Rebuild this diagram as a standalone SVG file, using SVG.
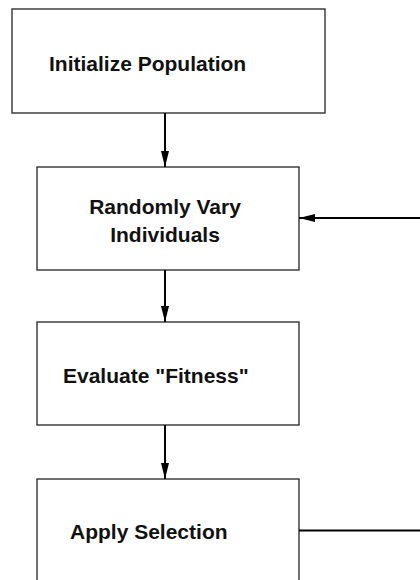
<svg xmlns="http://www.w3.org/2000/svg" width="420" height="580" viewBox="0 0 420 580">
<style>
.box{fill:#fff;stroke:#333;stroke-width:1.4}
.lbl{font-family:"Liberation Sans",Arial,sans-serif;font-weight:bold;font-size:21px;fill:#111}
.edge{stroke:#000;stroke-width:2;fill:none}
</style>
<defs>
<marker id="ah" viewBox="0 0 16 8" refX="16" refY="4" markerWidth="16" markerHeight="8" markerUnits="userSpaceOnUse" orient="auto">
<path d="M0,0 L16,4 L0,8 Z" fill="#000"/>
</marker>
</defs>
<rect width="420" height="580" fill="#fff"/>
<g id="n1"><rect class="box" x="12" y="9" width="313" height="104"/><text class="lbl" x="49" y="71">Initialize Population</text></g>
<g id="n2"><rect class="box" x="37" y="167" width="262" height="103"/><text class="lbl" x="165" y="214" text-anchor="middle">Randomly Vary</text><text class="lbl" x="165" y="242" text-anchor="middle">Individuals</text></g>
<g id="n3"><rect class="box" x="37" y="322" width="262" height="103"/><text class="lbl" x="63" y="383">Evaluate "Fitness"</text></g>
<g id="n4"><rect class="box" x="37" y="479" width="262" height="110"/><text class="lbl" x="70" y="539">Apply Selection</text></g>
<g id="connectors">
<line class="edge" x1="165" y1="113" x2="165" y2="167" marker-end="url(#ah)"/>
<line class="edge" x1="165" y1="270" x2="165" y2="322" marker-end="url(#ah)"/>
<line class="edge" x1="165" y1="425" x2="165" y2="479" marker-end="url(#ah)"/>
<line class="edge" x1="421" y1="218" x2="299" y2="218" marker-end="url(#ah)"/>
<line class="edge" x1="299" y1="530.5" x2="421" y2="530.5"/>
</g>
</svg>
